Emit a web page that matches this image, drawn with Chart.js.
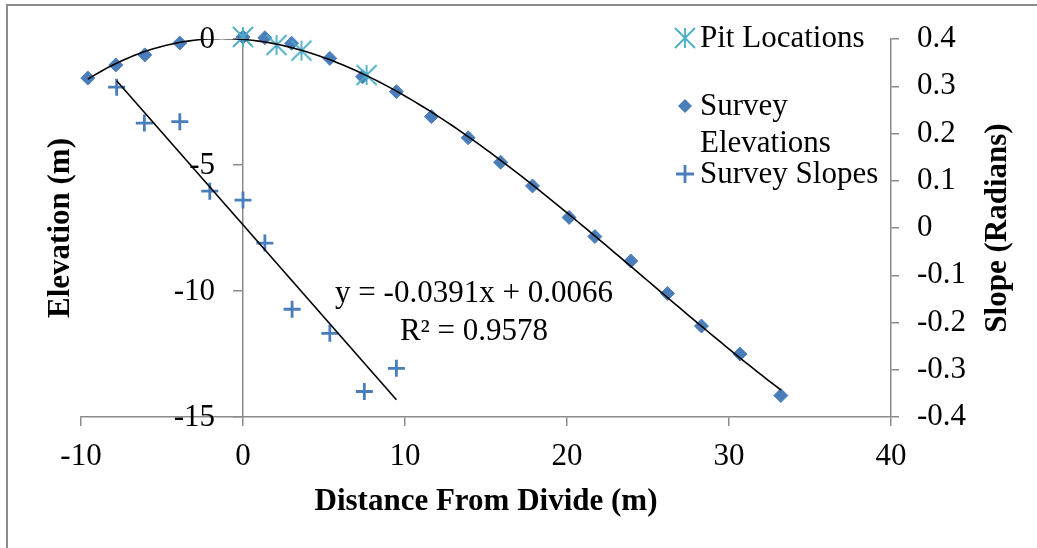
<!DOCTYPE html>
<html>
<head>
<meta charset="utf-8">
<script src="https://cdn.jsdelivr.net/npm/chart.js@4.4.0/dist/chart.umd.min.js"></script>
<style>
  html, body { margin: 0; padding: 0; background: #fff; overflow: hidden; }
  #wrap { position: relative; width: 1037px; height: 548px; }
  #frame { position: absolute; left: 6px; top: 4px; width: 1100px; height: 600px; border: 2px solid #8c8c8c; pointer-events: none; }
</style>
</head>
<body>
<div id="wrap">
  <canvas id="profileChart" width="1037" height="548"></canvas>
  <div id="frame"></div>
</div>
<script>
const SERIF = '"Liberation Serif", "Times New Roman", serif';
const AXIS_GRAY = '#8a8a8a';
const BLUE = '#4a7ebb';
const TEAL = '#4bacc6';

// survey stations: distance from divide (m) and elevation (m)
const surveyDist = [-9.58, -7.85, -6.06, -3.9, 0, 1.35, 3.0, 5.36, 7.38, 9.47, 11.63,
  13.9, 15.9, 17.87, 20.13, 21.72, 23.94, 26.2, 28.3, 30.67, 33.2];
const surveyElev = [-1.55, -1.03, -0.63, -0.16, 0.08, 0.05, -0.17, -0.77, -1.5, -2.09, -3.08,
  -3.92, -4.89, -5.83, -7.08, -7.84, -8.81, -10.1, -11.39, -12.5, -14.15];

// soil pits
const pitDist = [0, 2.07, 3.61, 7.63];
const pitElev = [0.08, -0.24, -0.46, -1.43];

// measured slopes (radians)
const slopeDist = [-7.8, -6.09, -3.9, -2.05, 0, 1.35, 3.03, 5.36, 7.49, 9.47];
const slopeRad = [0.298, 0.222, 0.225, 0.078, 0.059, -0.032, -0.172, -0.223, -0.346, -0.297];

// linear fit of slope vs distance
const slopeFit = { m: -0.0391, b: 0.0066, r2: 0.9578 };

const distTicks = [-10, 0, 10, 20, 30, 40];
const elevTicks = [-15, -10, -5, 0];
const slopeTicks = [-0.4, -0.3, -0.2, -0.1, 0, 0.1, 0.2, 0.3, 0.4];

const zip = (xs, ys) => xs.map((x, i) => ({ x, y: ys[i] }));

// least squares polynomial through the survey elevations
function polyFit(xs, ys, order) {
  const n = order + 1;
  const A = Array.from({ length: n }, () => new Array(n + 1).fill(0));
  xs.forEach((x, k) => {
    for (let i = 0; i < n; i++) {
      for (let j = 0; j < n; j++) A[i][j] += Math.pow(x, i + j);
      A[i][n] += ys[k] * Math.pow(x, i);
    }
  });
  for (let c = 0; c < n; c++) {
    let p = c;
    for (let r = c + 1; r < n; r++) if (Math.abs(A[r][c]) > Math.abs(A[p][c])) p = r;
    [A[c], A[p]] = [A[p], A[c]];
    for (let r = 0; r < n; r++) {
      if (r === c) continue;
      const f = A[r][c] / A[c][c];
      for (let k = c; k <= n; k++) A[r][k] -= f * A[c][k];
    }
  }
  return A.map((row, i) => row[n] / row[i]);
}

function sampleCurve(f, x0, x1, steps) {
  const pts = [];
  for (let i = 0; i <= steps; i++) {
    const x = x0 + (x1 - x0) * i / steps;
    pts.push({ x, y: f(x) });
  }
  return pts;
}

const elevCoef = polyFit(surveyDist, surveyElev, 3);
const elevTrend = sampleCurve(x => elevCoef.reduce((s, c, k) => s + c * Math.pow(x, k), 0),
  Math.min(...surveyDist), Math.max(...surveyDist), 150);
const slopeTrend = sampleCurve(x => slopeFit.m * x + slopeFit.b,
  Math.min(...slopeDist), Math.max(...slopeDist), 1);

// asterisk marker: an X with a vertical bar
function asterisk(d, color, width) {
  const c = document.createElement('canvas');
  const s = Math.ceil(2 * d + width + 2);
  c.width = c.height = s;
  const g = c.getContext('2d');
  const m = s / 2;
  g.strokeStyle = color;
  g.lineWidth = width;
  g.beginPath();
  g.moveTo(m, m - d); g.lineTo(m, m + d);
  g.moveTo(m - d, m - d); g.lineTo(m + d, m + d);
  g.moveTo(m + d, m - d); g.lineTo(m - d, m + d);
  g.stroke();
  return c;
}
const pitMarker = asterisk(10, TEAL, 1.8);

const tickFont = { family: SERIF, size: 31 };
const titleFont = { family: SERIF, size: 31, weight: 'bold' };

const fmt = v => String(Math.round(v * 10) / 10);

// elevation tick labels (axis sits at x = 0, labels stand off to its left),
// legend, trendline label and the two vertical axis titles
const notes = {
  id: 'profileNotes',
  afterDraw(chart) {
    const { ctx, chartArea } = chart;
    const yScale = chart.scales.y;
    const axisX = chart.scales.x.getPixelForValue(0);
    ctx.save();
    ctx.fillStyle = '#000';
    ctx.textBaseline = 'middle';

    ctx.font = `31px ${SERIF}`;
    ctx.textAlign = 'right';
    elevTicks.forEach(v => ctx.fillText(fmt(v), axisX - 28, yScale.getPixelForValue(v) + 1));

    ctx.font = `bold 31px ${SERIF}`;
    ctx.textAlign = 'center';
    const midY = (chartArea.top + chartArea.bottom) / 2;
    [['Elevation (m)', 61], ['Slope (Radians)', 998]].forEach(([t, x]) => {
      ctx.save();
      ctx.translate(x, midY);
      ctx.rotate(-Math.PI / 2);
      ctx.fillText(t, 0, 0);
      ctx.restore();
    });

    ctx.font = `31px ${SERIF}`;
    ctx.fillText(`y = ${slopeFit.m}x + ${slopeFit.b}`, 474, 294);
    ctx.fillText(`R² = ${slopeFit.r2}`, 474, 332);

    // legend
    const mx = 685, tx = 700;
    ctx.drawImage(pitMarker, mx - pitMarker.width / 2, 38 - pitMarker.height / 2);

    ctx.fillStyle = BLUE;
    ctx.beginPath();
    ctx.moveTo(mx - 7, 106); ctx.lineTo(mx, 99); ctx.lineTo(mx + 7, 106); ctx.lineTo(mx, 113);
    ctx.closePath();
    ctx.fill();

    ctx.strokeStyle = BLUE;
    ctx.lineWidth = 2.8;
    ctx.beginPath();
    ctx.moveTo(mx - 9, 174); ctx.lineTo(mx + 9, 174);
    ctx.moveTo(mx, 165); ctx.lineTo(mx, 183);
    ctx.stroke();

    ctx.fillStyle = '#000';
    ctx.textAlign = 'left';
    ctx.fillText('Pit Locations', tx, 39);
    ctx.fillText('Survey', tx, 107);
    ctx.fillText('Elevations', tx, 144);
    ctx.fillText('Survey Slopes', tx, 175);
    ctx.restore();
  }
};

new Chart(document.getElementById('profileChart'), {
  type: 'scatter',
  data: {
    datasets: [
      {
        label: 'Elevation trend', data: elevTrend, showLine: true, pointRadius: 0,
        borderColor: '#000', borderWidth: 1.6, yAxisID: 'y', order: 0
      },
      {
        label: 'Slope trend', data: slopeTrend, showLine: true, pointRadius: 0,
        borderColor: '#000', borderWidth: 1.6, yAxisID: 'y2', order: 0
      },
      {
        label: 'Pit Locations', data: zip(pitDist, pitElev), yAxisID: 'y',
        pointStyle: pitMarker, pointRadius: 10, order: 1, clip: false
      },
      {
        label: 'Survey Elevations', data: zip(surveyDist, surveyElev), yAxisID: 'y',
        pointStyle: 'rectRot', pointRadius: 7, backgroundColor: BLUE, borderColor: BLUE,
        borderWidth: 1, order: 2, clip: false
      },
      {
        label: 'Survey Slopes', data: zip(slopeDist, slopeRad), yAxisID: 'y2',
        pointStyle: 'cross', pointRadius: 8.5, borderColor: BLUE, borderWidth: 2.8,
        order: 3, clip: false
      }
    ]
  },
  options: {
    responsive: false,
    animation: false,
    events: [],
    layout: { padding: { left: 81, top: 39, right: 0, bottom: 0 } },
    plugins: { legend: { display: false }, tooltip: { enabled: false } },
    scales: {
      x: {
        type: 'linear', position: 'bottom', min: -10, max: 40,
        afterBuildTicks: s => { s.ticks = distTicks.map(v => ({ value: v })); },
        afterFit: s => { s.height = 131; },
        grid: { drawOnChartArea: false, drawTicks: true, tickLength: 9, color: AXIS_GRAY, lineWidth: 1.5 },
        border: { color: AXIS_GRAY, width: 1.5 },
        ticks: { font: tickFont, color: '#000', padding: 12, maxRotation: 0 },
        title: {
          display: true, text: 'Distance From Divide (m)', font: titleFont, color: '#000',
          padding: { top: 0, bottom: 27 }
        }
      },
      y: {
        type: 'linear', position: { x: 0 }, min: -15, max: 0,
        afterBuildTicks: s => { s.ticks = elevTicks.map(v => ({ value: v })); },
        grid: { drawOnChartArea: false, drawTicks: true, tickLength: 9, color: AXIS_GRAY, lineWidth: 1.5 },
        border: { color: AXIS_GRAY, width: 1.5 },
        ticks: { display: false }
      },
      y2: {
        type: 'linear', position: 'right', min: -0.4, max: 0.4,
        afterBuildTicks: s => { s.ticks = slopeTicks.map(v => ({ value: v })); },
        afterFit: s => { s.width = 146; },
        grid: { drawOnChartArea: false, drawTicks: true, tickLength: 8, color: AXIS_GRAY, lineWidth: 1.5 },
        border: { color: AXIS_GRAY, width: 1.5 },
        ticks: { font: tickFont, color: '#000', padding: 18, callback: fmt }
      }
    }
  },
  plugins: [notes]
});
</script>
</body>
</html>
